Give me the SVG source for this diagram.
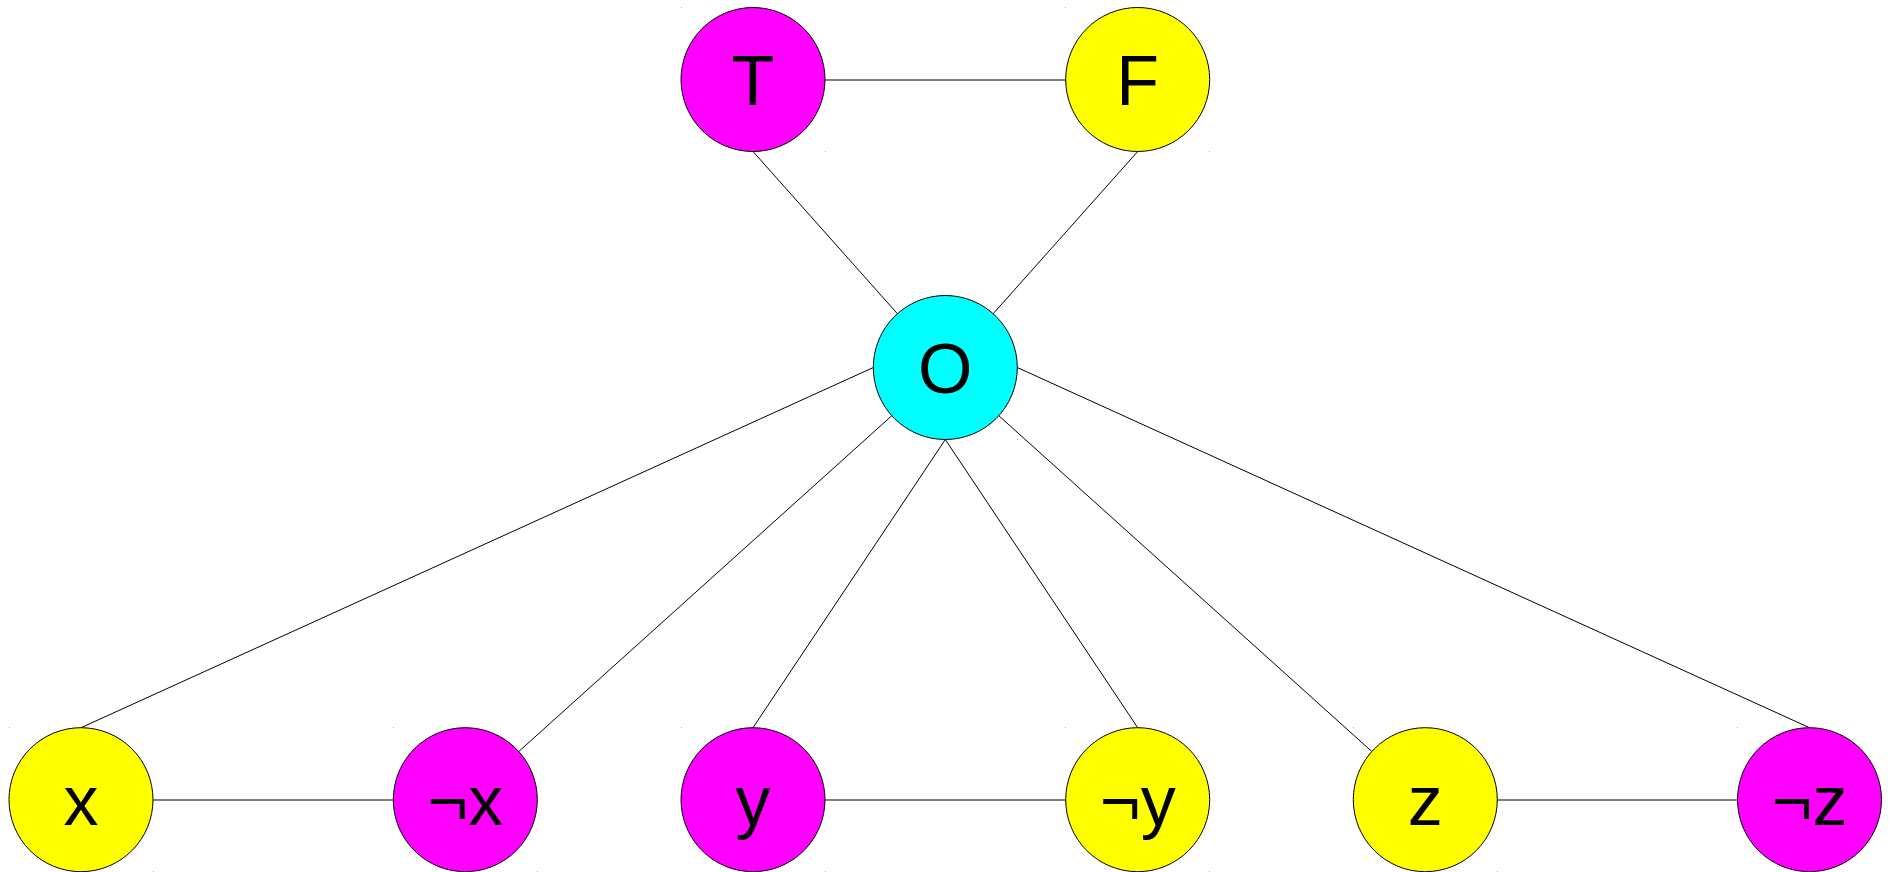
<svg xmlns="http://www.w3.org/2000/svg" width="1892" height="872" viewBox="0 0 1892 872">
<style>
.n{stroke:#000;stroke-width:1}
.m{fill:#ff00ff}.yl{fill:#ffff00}.c{fill:#00ffff}
.t{font-family:"Liberation Sans",Arial,sans-serif;font-size:70px;fill:#000;text-anchor:middle}
.e{stroke:#000;stroke-width:1;fill:none}
.d{fill:#aaa}
</style>
<rect width="1892" height="872" fill="#fff"/>
<g id="connectors">
<line class="e" x1="825" y1="80" x2="1066" y2="80"/>
<line class="e" x1="753" y1="151.5" x2="897.4" y2="313.7"/>
<line class="e" x1="1137.7" y1="151.5" x2="993.2" y2="313.7"/>
<line class="e" x1="873.3" y1="367.5" x2="81" y2="727.7"/>
<line class="e" x1="891.8" y1="415.7" x2="518.8" y2="751.5"/>
<line class="e" x1="945.3" y1="439.5" x2="753" y2="727.7"/>
<line class="e" x1="945.3" y1="439.5" x2="1137.7" y2="727.7"/>
<line class="e" x1="998.8" y1="415.7" x2="1371.8" y2="751.5"/>
<line class="e" x1="1017.3" y1="367.5" x2="1809.5" y2="727.7"/>
<line class="e" x1="153" y1="800" x2="393.3" y2="800"/>
<line class="e" x1="825" y1="800" x2="1065.7" y2="800"/>
<line class="e" x1="1497.3" y1="800" x2="1737.5" y2="800"/>
</g>
<g id="marks">
<rect class="d" x="681" y="7" width="1" height="1"/><rect class="d" x="825" y="151" width="1" height="1"/>
<rect class="d" x="1065" y="7" width="1" height="1"/><rect class="d" x="1209" y="151" width="1" height="1"/>
<rect class="d" x="873" y="295" width="1" height="1"/><rect class="d" x="1017" y="439" width="1" height="1"/>
<rect class="d" x="9" y="727" width="1" height="1"/><rect class="d" x="153" y="871" width="1" height="1"/>
<rect class="d" x="393" y="727" width="1" height="1"/><rect class="d" x="537" y="871" width="1" height="1"/>
<rect class="d" x="681" y="727" width="1" height="1"/><rect class="d" x="825" y="871" width="1" height="1"/>
<rect class="d" x="1065" y="727" width="1" height="1"/><rect class="d" x="1209" y="871" width="1" height="1"/>
<rect class="d" x="1353" y="727" width="1" height="1"/><rect class="d" x="1497" y="871" width="1" height="1"/>
<rect class="d" x="1737" y="727" width="1" height="1"/>
</g>
<g id="node-T"><circle class="n m" cx="753" cy="79.5" r="72"/><text class="t" x="753" y="104.5">T</text></g>
<g id="node-F"><circle class="n yl" cx="1137.7" cy="79.5" r="72"/><text class="t" x="1137.7" y="104.5">F</text></g>
<g id="node-O"><circle class="n c" cx="945.3" cy="367.5" r="72"/><text class="t" x="945.3" y="392.5">O</text></g>
<g id="node-x"><circle class="n yl" cx="81" cy="799.7" r="72"/><text class="t" x="81" y="824.7">x</text></g>
<g id="node-notx"><circle class="n m" cx="465.3" cy="799.7" r="72"/><text class="t" x="465.3" y="824.7">¬x</text></g>
<g id="node-y"><circle class="n m" cx="753" cy="799.7" r="72"/><text class="t" x="753" y="824.7">y</text></g>
<g id="node-noty"><circle class="n yl" cx="1137.7" cy="799.7" r="72"/><text class="t" x="1137.7" y="824.7">¬y</text></g>
<g id="node-z"><circle class="n yl" cx="1425.3" cy="799.7" r="72"/><text class="t" x="1425.3" y="824.7">z</text></g>
<g id="node-notz"><circle class="n m" cx="1809.5" cy="799.7" r="72"/><text class="t" x="1809.5" y="824.7">¬z</text></g>
</svg>
